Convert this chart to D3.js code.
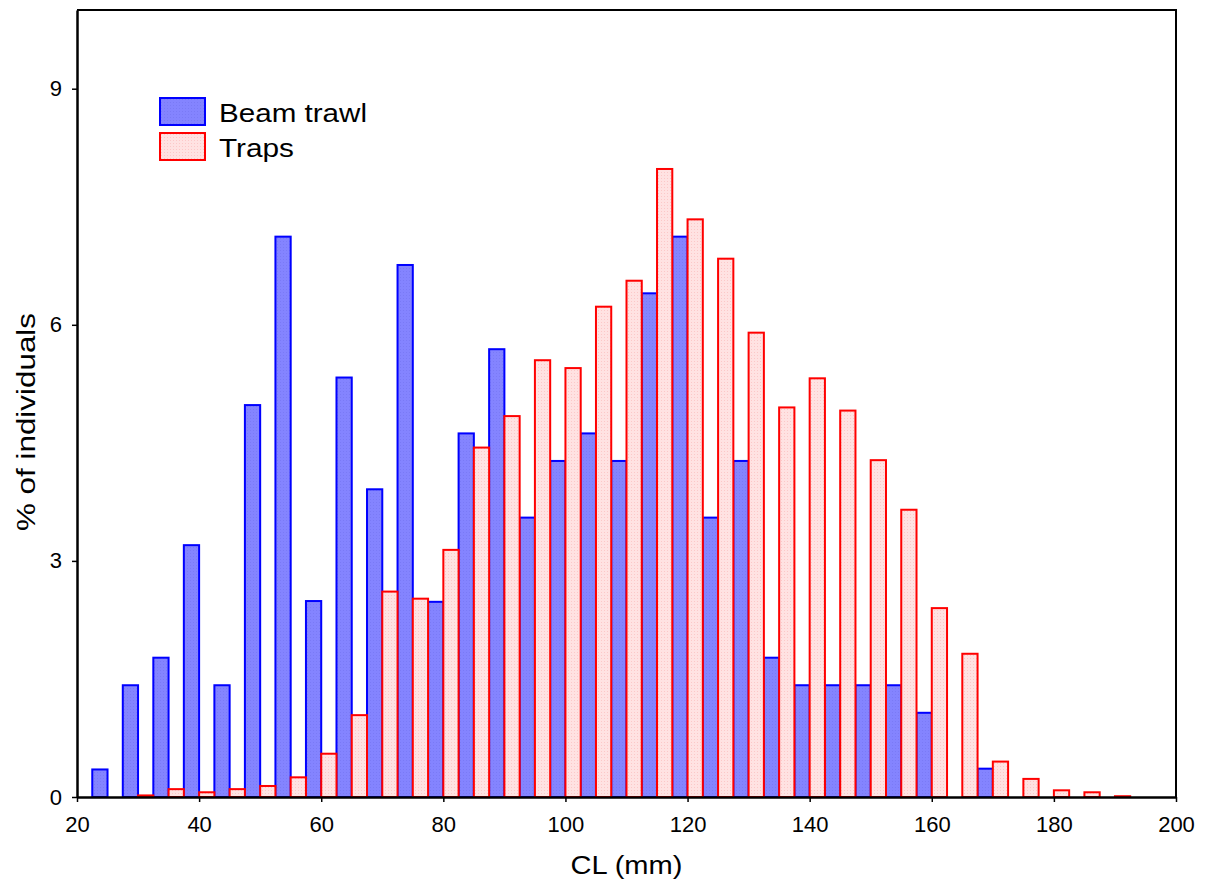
<!DOCTYPE html>
<html lang="en">
<head>
  <meta charset="UTF-8" />
  <title>CL frequency: beam trawl vs traps</title>
  <style>
    body { margin: 0; background: #fff; }
    svg { display: block; font-family: "Liberation Sans", Arial, sans-serif; }
  </style>
</head>
<body>
  <svg width="1208" height="893"></svg>

  <script src="https://d3js.org/d3.v7.min.js"></script>

  <script>
    // size-class centres (mm), 5 mm classes
    const classes = [25,30,35,40,45,50,55,60,65,70,75,80,85,90,95,100,105,110,
                     115,120,125,130,135,140,145,150,155,160,165,170,175,180,185,190];

    // % of individuals per class
    const beamTrawl = [0.35,1.42,1.77,3.20,1.42,4.98,7.12,2.49,5.33,3.91,6.76,2.48,4.62,5.69,
                       3.55,4.27,4.62,4.27,6.40,7.12,3.55,4.27,1.77,1.42,1.42,1.42,1.42,1.07,
                       0,0.36,0,0,0,0];
    const traps = [0,0.02,0.10,0.06,0.10,0.14,0.25,0.55,1.04,2.61,2.52,3.14,4.44,4.84,
                   5.55,5.45,6.23,6.56,7.98,7.34,6.84,5.90,4.95,5.32,4.91,4.28,3.65,2.40,
                   1.82,0.45,0.23,0.085,0.06,0.01];

    const xTicks = [20,40,60,80,100,120,140,160,180,200];
    const yTicks = [0,3,6,9];
    const seriesNames = ['Beam trawl', 'Traps'];

    const svg = d3.select('svg');
    const plotLeft = 77, plotRight = 1176, plotTop = 10, plotBottom = 797;

    const x = d3.scaleLinear().domain([20, 200]).range([plotLeft, plotRight]);
    const y = d3.scaleLinear().domain([0, 10]).range([plotBottom, plotTop]);

    // dotted fills like the original hatch
    const defs = svg.append('defs');
    function dotPattern(id, bg, dot) {
      const p = defs.append('pattern')
        .attr('id', id)
        .attr('patternUnits', 'userSpaceOnUse')
        .attr('width', 3).attr('height', 3);
      p.append('rect').attr('width', 3).attr('height', 3).attr('fill', bg);
      p.append('rect').attr('x', 1).attr('y', 1).attr('width', 1).attr('height', 1).attr('fill', dot);
    }
    dotPattern('fill-beam', '#8484ff', '#7a7af6');
    dotPattern('fill-traps', '#ffe2e2', '#fcc8c8');

    const half = 2.5;

    // beam trawl bars: left half of each class
    svg.append('g').selectAll('rect')
      .data(classes)
      .enter().append('rect')
      .attr('x', (d) => x(d - half))
      .attr('width', (d) => x(d) - x(d - half))
      .attr('y', (d, i) => y(beamTrawl[i]))
      .attr('height', (d, i) => y(0) - y(beamTrawl[i]))
      .attr('fill', 'url(#fill-beam)')
      .attr('stroke', '#0000ff')
      .attr('stroke-width', 2);

    // traps bars: right half
    svg.append('g').selectAll('rect')
      .data(classes)
      .enter().append('rect')
      .attr('x', (d) => x(d))
      .attr('width', (d) => x(d + half) - x(d))
      .attr('y', (d, i) => y(traps[i]))
      .attr('height', (d, i) => y(0) - y(traps[i]))
      .attr('fill', 'url(#fill-traps)')
      .attr('stroke', '#ff0000')
      .attr('stroke-width', 2);

    // frame top / right
    svg.append('path')
      .attr('d', `M${plotLeft},${plotTop}H${plotRight}V${plotBottom}`)
      .attr('fill', 'none')
      .attr('stroke', '#000')
      .attr('stroke-width', 2);

    const xAxis = svg.append('g')
      .attr('transform', `translate(0,${plotBottom})`)
      .call(d3.axisBottom(x).tickValues(xTicks).tickSize(5).tickPadding(14).tickSizeOuter(0));
    const yAxis = svg.append('g')
      .attr('transform', `translate(${plotLeft},0)`)
      .call(d3.axisLeft(y).tickValues(yTicks).tickSize(5).tickPadding(10).tickSizeOuter(0));

    [xAxis, yAxis].forEach(a => {
      a.select('.domain').attr('stroke', '#000').attr('stroke-width', 2.5);
      a.selectAll('.tick line').attr('stroke', '#000').attr('stroke-width', 1.5);
      a.selectAll('.tick text')
        .attr('fill', '#000')
        .style('font-family', '"Liberation Sans", Arial, sans-serif')
        .style('font-size', '22px');
    });

    // axis titles (the source lettering is a bit wider than Liberation Sans)
    svg.append('text')
      .attr('x', (plotLeft + plotRight) / 2)
      .attr('y', 874)
      .attr('text-anchor', 'middle')
      .attr('textLength', 112)
      .attr('lengthAdjust', 'spacingAndGlyphs')
      .style('font-size', '26px')
      .text('CL (mm)');

    svg.append('text')
      .attr('transform', 'translate(35,422) rotate(-90)')
      .attr('text-anchor', 'middle')
      .attr('textLength', 218)
      .attr('lengthAdjust', 'spacingAndGlyphs')
      .style('font-size', '26px')
      .text('% of individuals');

    // legend
    const legend = svg.append('g').attr('transform', 'translate(160,98)');
    const fills = ['url(#fill-beam)', 'url(#fill-traps)'];
    const strokes = ['#0000ff', '#ff0000'];
    const labelWidths = [148, 75];
    seriesNames.forEach((name, i) => {
      const row = legend.append('g').attr('transform', `translate(0,${i * 35})`);
      row.append('rect')
        .attr('width', 45).attr('height', 27)
        .attr('fill', fills[i])
        .attr('stroke', strokes[i])
        .attr('stroke-width', 2);
      row.append('text')
        .attr('x', 59).attr('y', 24)
        .attr('textLength', labelWidths[i])
        .attr('lengthAdjust', 'spacingAndGlyphs')
        .style('font-size', '25px')
        .text(name);
    });
  </script>
</body>
</html>
